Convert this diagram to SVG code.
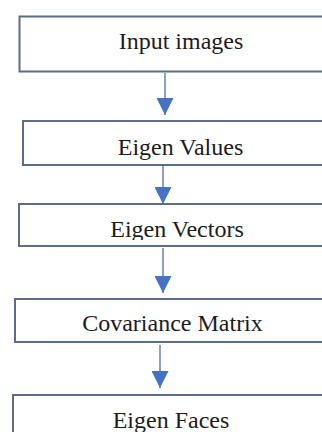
<svg xmlns="http://www.w3.org/2000/svg" width="322" height="432" viewBox="0 0 322 432">
  <style>
    .box { fill: #ffffff; stroke: #5d6c8a; stroke-width: 2; }
    .label { font-family: "Liberation Serif", "Times New Roman", serif; font-size: 24px; fill: #1c1c1c; text-anchor: middle; }
    .flow { stroke: #7088bb; stroke-width: 1.6; fill: none; marker-end: url(#head); }
  </style>
  <defs>
    <marker id="head" markerUnits="userSpaceOnUse" markerWidth="17" markerHeight="17" viewBox="0 0 16 16" refX="16" refY="8" orient="auto">
      <path d="M0,0 L16,8 L0,16 Z" fill="#4472c4"/>
    </marker>
    <clipPath id="vectorsClip">
      <rect x="0" y="204" width="322" height="36"/>
    </clipPath>
  </defs>
  <rect width="322" height="432" fill="#ffffff"/>

  <g id="connectors">
    <line class="flow" x1="165" y1="73" x2="165" y2="115"/>
    <line class="flow" x1="163" y1="166" x2="163" y2="204"/>
    <line class="flow" x1="163" y1="248" x2="163" y2="293"/>
    <line class="flow" x1="160" y1="345" x2="160" y2="388"/>
  </g>

  <g id="input-images">
    <rect class="box" x="19.5" y="16.5" width="320" height="55"/>
    <text class="label" x="181" y="49">Input images</text>
  </g>

  <g id="eigen-values">
    <rect class="box" x="23" y="121" width="320" height="44"/>
    <text class="label" x="180.5" y="155">Eigen Values</text>
  </g>

  <g id="eigen-vectors">
    <rect class="box" x="19" y="204" width="320" height="42"/>
    <text class="label" x="177" y="237" clip-path="url(#vectorsClip)">Eigen Vectors</text>
  </g>

  <g id="covariance-matrix">
    <rect class="box" x="15" y="299" width="320" height="43"/>
    <text class="label" x="172.5" y="331">Covariance Matrix</text>
  </g>

  <g id="eigen-faces">
    <rect class="box" x="13" y="395" width="320" height="50"/>
    <text class="label" x="171" y="428">Eigen Faces</text>
  </g>
</svg>
